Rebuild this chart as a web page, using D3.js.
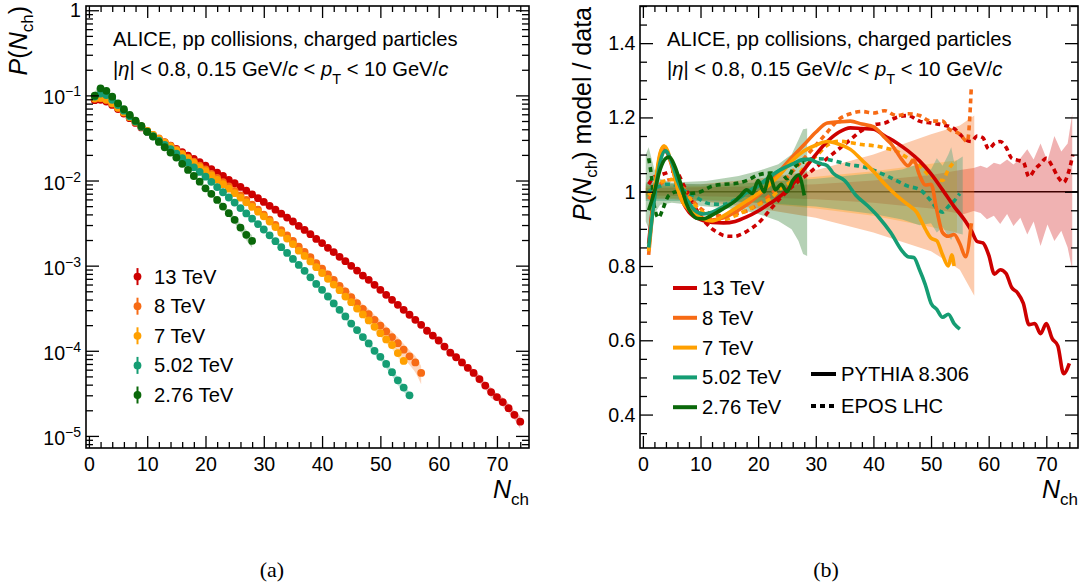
<!DOCTYPE html>
<html><head><meta charset="utf-8">
<script src="https://cdn.jsdelivr.net/npm/d3@7/dist/d3.min.js"></script>
<style>
html,body{margin:0;padding:0;background:#fff;}
svg{display:block;}
text{white-space:pre;}
</style></head><body>
<svg id="chart" width="1086" height="583"></svg>
<script>
// ================= DATA =================
const energies = ["13 TeV", "8 TeV", "7 TeV", "5.02 TeV", "2.76 TeV"];
const modelNames = ["PYTHIA 8.306", "EPOS LHC"];
const xMajorTicks = [0, 10, 20, 30, 40, 50, 60, 70];
const xMinorTicks = [2,4,6,8,12,14,16,18,22,24,26,28,32,34,36,38,42,44,46,48,52,54,56,58,62,64,66,68,72,74];
const yLogMajor = [1e-5, 1e-4, 1e-3, 1e-2, 1e-1, 1];
const yLogLabels = ["\u22125", "\u22124", "\u22123", "\u22122", "\u22121", "0"];
const yRatioMajor = [0.4, 0.6, 0.8, 1.0, 1.2, 1.4];
const yRatioLabels = ["0.4", "0.6", "0.8", "1", "1.2", "1.4"];
const yRatioMinor = [0.35,0.45,0.5,0.55,0.65,0.7,0.75,0.85,0.9,0.95,1.05,1.1,1.15,1.25,1.3,1.35,1.45,1.5];

// P(Nch), first entry is Nch = 1
const p13 = [0.0879,0.0889,0.0847,0.0773,0.0692,0.0611,0.0540,0.0475,0.0420,0.0373,
  0.0337,0.0307,0.0280,0.0256,0.0235,0.0215,0.0196,0.0179,0.0164,0.0150,
  0.0136,0.0124,0.0113,0.0102,0.00929,0.00841,0.00760,0.00687,0.00621,0.00560,
  0.00505,0.00454,0.00408,0.00367,0.00330,0.00293,0.00263,0.00234,0.00206,0.00184,
  0.00162,0.00144,0.00127,0.00113,9.95e-4,8.76e-4,7.65e-4,6.81e-4,5.95e-4,5.20e-4,
  4.54e-4,3.97e-4,3.47e-4,3.03e-4,2.65e-4,2.31e-4,2.02e-4,1.72e-4,1.51e-4,1.32e-4,
  1.12e-4,9.5e-5,8.4e-5,7.3e-5,6.3e-5,5.5e-5,4.65e-5,3.9e-5,3.27e-5,2.86e-5,
  2.5e-5,2.12e-5,1.77e-5,1.47e-5];
const p8 = [0.0910,0.0930,0.0887,0.0804,0.0716,0.0631,0.0555,0.0489,0.0432,0.0382,
  0.0344,0.0312,0.0282,0.0255,0.0230,0.0207,0.0186,0.0167,0.0150,0.0135,
  0.0120,0.0107,0.00957,0.00851,0.00755,0.00670,0.00593,0.00519,0.00455,0.00398,
  0.00347,0.00301,0.00261,0.00226,0.00195,1.67e-3,1.45e-3,1.26e-3,1.07e-3,9.2e-4,
  7.9e-4,6.8e-4,5.8e-4,5.0e-4,4.26e-4,3.63e-4,3.11e-4,2.70e-4,2.31e-4,1.98e-4,
  1.69e-4,1.45e-4,1.23e-4,1.03e-4,8.6e-5,7.3e-5,5.5e-5];
const p7 = [0.0923,0.0933,0.0891,0.0807,0.0718,0.0632,0.0556,0.0490,0.0433,0.0382,
  0.0343,0.0309,0.0279,0.0251,0.0225,0.0202,0.0181,0.0161,0.0144,0.0129,
  0.0115,0.0102,0.00904,0.00802,0.00710,0.00628,0.00555,0.00489,0.00431,0.00380,
  0.00330,0.00284,0.00243,0.00208,0.00179,1.50e-3,1.30e-3,1.12e-3,9.6e-4,8.2e-4,
  7.0e-4,6.0e-4,5.15e-4,4.33e-4,3.72e-4,3.13e-4,2.67e-4,2.27e-4,1.91e-4,1.61e-4,
  1.36e-4,1.17e-4,9.4e-5,7.6e-5];
const p5 = [0.097,0.105,0.101,0.0889,0.0769,0.0661,0.0569,0.0492,0.0428,0.0373,
  0.0331,0.0294,0.0262,0.0233,0.0207,0.0183,0.0162,0.0143,0.0126,0.0111,
  0.00964,0.00838,0.00728,0.00632,0.00550,0.00475,0.00411,0.00356,0.00308,0.00266,
  0.00227,0.00194,0.00165,0.00141,0.00120,0.00102,8.7e-4,7.3e-4,6.1e-4,5.2e-4,
  4.34e-4,3.6e-4,3.03e-4,2.53e-4,2.09e-4,1.75e-4,1.45e-4,1.22e-4,1.0e-4,8.5e-5,
  7.0e-5,5.6e-5,4.5e-5,3.7e-5,3.0e-5];
const p276 = [0.099,0.121,0.113,0.0966,0.0807,0.0687,0.0589,0.0505,0.0437,0.0375,
  0.0328,0.0284,0.0246,0.0213,0.0186,0.0157,0.0133,0.0113,0.0097,0.0081,
  0.00697,0.00592,0.00494,0.00413,0.00345,0.0028,0.0023,0.00195];

// PYTHIA 8.306 / data
const py13N = [1,2,3,3.8,5,6,7,8,10,12,14,16,18,20,22,24,26,28,30,32,34,36,38,40,42,44,46,48,50,52,54,56,57,58,59,60,61,62,63,64,65,66,67,68,69,70,71,72,73,74];
const py13V = [0.86,1.0,1.09,1.11,1.075,1.015,0.97,0.945,0.925,0.917,0.916,0.92,0.932,0.948,0.968,0.99,1.02,1.06,1.1,1.135,1.16,1.172,1.17,1.168,1.15,1.132,1.11,1.083,1.048,1.005,0.96,0.92,0.895,0.866,0.862,0.83,0.778,0.79,0.78,0.742,0.728,0.7,0.642,0.645,0.618,0.645,0.605,0.585,0.51,0.538];
const py8N = [1,2,3,3.6,5,6,7,8,10,12,14,16,18,20,22,24,26,28,30,32,34,36,38,40,41,42,43,44,45,46,47,48,49,50,51,52,53,54,55,56,57];
const py8V = [0.83,0.99,1.1,1.122,1.07,1.01,0.97,0.95,0.93,0.924,0.93,0.945,0.965,0.99,1.02,1.06,1.095,1.127,1.16,1.185,1.188,1.19,1.182,1.175,1.162,1.145,1.13,1.108,1.085,1.07,1.085,1.045,1.018,1.02,0.95,0.89,0.88,0.885,0.86,0.825,0.915];
const py7N = [1,2,3,3.7,5,6,7,8,10,12,14,16,18,20,22,24,26,28,30,32,34,36,38,40,42,44,46,47.5,49,50,51,52,53,53.6,54];
const py7V = [0.84,1.0,1.105,1.123,1.075,1.01,0.97,0.955,0.93,0.921,0.935,0.955,0.975,0.995,1.02,1.05,1.085,1.11,1.125,1.135,1.128,1.114,1.085,1.055,1.02,0.99,0.965,0.945,0.9,0.875,0.868,0.83,0.80,0.83,0.80];
const py5N = [1,2,3,3.9,5,6,7,8,9,10.5,12,14,16,18,20,22,24,26,28,29,30,31,32,33,35,37,39,41,43,45,46,47,48,49,50,51,52,53,54,55];
const py5V = [0.85,0.98,1.08,1.11,1.08,1.03,0.995,0.97,0.95,0.94,0.945,0.96,0.975,0.998,1.017,1.04,1.06,1.075,1.087,1.087,1.08,1.075,1.07,1.05,1.03,0.99,0.962,0.93,0.89,0.84,0.825,0.823,0.79,0.75,0.70,0.683,0.662,0.67,0.645,0.63];
const py276N = [1,2,3,4,4.6,5.5,6.5,7.5,8.5,9.5,10.5,12,14,16,17,18,19,20,21,22,23,24,25,26,27,28];
const py276V = [0.95,1.0,1.06,1.09,1.093,1.07,1.025,0.97,0.94,0.928,0.927,0.937,0.955,0.975,0.99,1.005,0.995,1.03,1.0,1.045,1.005,1.02,1.0,1.03,1.045,0.99];

// EPOS LHC / data
const ep13N = [1,2,3,4,5,6,7,8,9,10,11,12,13,14,15,16,17,18,19,20,22,24,26,28,30,32,34,36,38,40,42,44,46,48,50,52,54,55,56,57,58,59,60,61,62,63,64,65,66,67,68,69,70,71,72,73,74,74.6];
const ep13V = [1.02,1.04,1.045,1.05,1.055,1.05,1.02,0.99,0.96,0.935,0.915,0.9,0.89,0.882,0.88,0.88,0.885,0.893,0.903,0.915,0.95,0.985,1.015,1.04,1.065,1.09,1.115,1.14,1.165,1.18,1.185,1.2,1.205,1.19,1.185,1.18,1.17,1.155,1.14,1.135,1.15,1.145,1.115,1.13,1.135,1.12,1.09,1.085,1.08,1.04,1.06,1.075,1.09,1.07,1.04,1.025,1.06,1.1];
const ep8N = [1,2,3,4,5,6,7,8,9,10,12,14,16,18,20,22,24,26,28,30,32,34,36,38,40,42,44,46,48,50,52,53,55,56.3,57];
const ep8V = [0.98,1.0,1.02,1.03,1.033,1.025,1.01,0.99,0.97,0.955,0.94,0.935,0.94,0.948,0.965,0.99,1.02,1.055,1.09,1.125,1.16,1.195,1.21,1.216,1.212,1.218,1.205,1.21,1.205,1.19,1.19,1.17,1.155,1.135,1.285];
const ep7N = [1,2,3,4,5,6,7,8,9,10,12,14,16,18,20,22,24,26,28,30,32,34,36,38,40,42,44,46,48,50,51,52,53,54];
const ep7V = [0.99,1.01,1.025,1.03,1.033,1.025,1.005,0.985,0.965,0.95,0.93,0.925,0.935,0.95,0.965,0.98,1.01,1.03,1.065,1.095,1.125,1.136,1.132,1.127,1.124,1.118,1.109,1.09,1.07,1.04,1.035,1.03,1.06,1.08];
const ep5N = [1,2,3,4,5,6,7,8,9,10,11,12,14,16,18,20,22,24,26,28,30,32,34,36,38,40,42,44,46,48,50,51,52,53,54,55];
const ep5V = [1.0,1.01,1.015,1.02,1.02,1.015,1.005,0.995,0.988,0.978,0.97,0.967,0.966,0.978,0.995,1.015,1.038,1.06,1.075,1.085,1.089,1.087,1.08,1.072,1.068,1.058,1.045,1.03,1.015,1.006,0.975,0.955,0.945,0.96,0.975,0.995];
const ep276N = [1,1.5,2,2.7,3.5,4.5,6,8,10,12,14,16,18,20,22,24,25,26,27,28];
const ep276V = [1.09,1.04,0.96,0.93,0.955,0.99,1.0,0.995,1.0,1.015,1.02,1.022,1.03,1.045,1.05,1.05,1.035,1.06,1.075,1.08];

// data uncertainty bands (relative), upper and lower edges
const band13N = [0.5,10,20,30,40,50,55.6,57.4,58.6,59.7,60.9,62,63.2,64.3,65.5,66.7,67.8,69,70.2,71.4,72.6,73.7,74.5];
const band13Up = [1.01,1.012,1.015,1.02,1.03,1.045,1.06,1.064,1.07,1.064,1.078,1.073,1.087,1.073,1.09,1.114,1.087,1.13,1.083,1.15,1.108,1.13,1.21];
const band13Lo = [0.99,0.988,0.985,0.98,0.97,0.955,0.939,0.948,0.943,0.926,0.935,0.913,0.94,0.908,0.93,0.885,0.92,0.854,0.912,0.867,0.895,0.85,0.79];
const band8N = [0.5,5,10,20,30,40,50,55,57.5];
const band8Up = [1.02,1.02,1.02,1.035,1.058,1.1,1.155,1.178,1.205];
const band8Lo = [0.98,0.98,0.975,0.955,0.93,0.89,0.84,0.79,0.72];
const band7N = [0.5,10,20,30,40,50,54.5];
const band7Up = [1.015,1.015,1.025,1.04,1.055,1.075,1.085];
const band7Lo = [0.985,0.98,0.97,0.955,0.935,0.905,0.89];
const band5N = [0.5,10,20,30,40,45,48,50,51,52,53,53.5,54,55.5];
const band5Up = [1.025,1.02,1.025,1.035,1.05,1.06,1.075,1.06,1.09,1.07,1.1,1.12,1.08,1.095];
const band5Lo = [0.975,0.975,0.97,0.96,0.94,0.925,0.91,0.915,0.89,0.905,0.88,0.87,0.89,0.885];
const band276N = [0.5,1,2,3,5,11,16.6,20,23.5,25.8,27,27.8,28.5];
const band276Up = [1.1,1.12,1.06,1.035,1.025,1.029,1.042,1.056,1.074,1.1,1.14,1.168,1.17];
const band276Lo = [0.92,0.9,0.94,0.965,0.97,0.96,0.953,0.94,0.921,0.899,0.867,0.832,0.827];

// ================= DRAWING =================
const FONT = "'Liberation Sans', Arial, Helvetica, sans-serif";
const colors = ["#cd0000", "#f76b15", "#ffa000", "#159d73", "#0a680a"];
const pData = [p13, p8, p7, p5, p276];
const pyN = [py13N, py8N, py7N, py5N, py276N], pyV = [py13V, py8V, py7V, py5V, py276V];
const epN = [ep13N, ep8N, ep7N, ep5N, ep276N], epV = [ep13V, ep8V, ep7V, ep5V, ep276V];
const bN = [band13N, band8N, band7N, band5N, band276N];
const bUp = [band13Up, band8Up, band7Up, band5Up, band276Up];
const bLo = [band13Lo, band8Lo, band7Lo, band5Lo, band276Lo];
const TXT = 20.2, TICK = 19.6;

const svg = d3.select("#chart").attr("font-family", FONT);

const FL = {x0: 86, x1: 529, y0: 6, y1: 448};
const FR = {x0: 640, x1: 1078, y0: 6, y1: 448};
const xL = d3.scaleLinear().domain([-0.5, 75.5]).range([FL.x0, FL.x1]);
const yL = d3.scaleLog().domain([Math.pow(10, -5.142), Math.pow(10, 0.05)]).range([FL.y1, FL.y0]);
const xR = d3.scaleLinear().domain([-0.5, 75.5]).range([FR.x0, FR.x1]);
const yR = d3.scaleLinear().domain([0.31, 1.5]).range([FR.y1, FR.y0]);

function rich(g, x, y, parts, size, anchor, transform) {
  const t = g.append("text").attr("x", x).attr("y", y).attr("font-size", size)
    .attr("text-anchor", anchor || "start").attr("fill", "#000");
  if (transform) t.attr("transform", transform);
  let shift = 0;
  parts.forEach(p => {
    const ts = t.append("tspan").text(p.t);
    const target = p.sub ? p.sub : (p.sup ? -p.sup : 0);
    if (target !== shift) { ts.attr("dy", target - shift); shift = target; }
    if (p.i) ts.attr("font-style", "italic");
    if (p.fs) ts.attr("font-size", p.fs);
  });
  return t;
}

function ticks(g, x, y, F, xMaj, xMin, yMaj, yMin) {
  const ax = (axis, vals, size, tx, ty) => g.append("g")
    .attr("transform", `translate(${tx},${ty})`)
    .call(axis.tickValues(vals).tickSize(size).tickFormat(""))
    .call(s => s.select(".domain").remove())
    .call(s => s.selectAll("line").attr("stroke", "#000").attr("stroke-width", 1.3));
  ax(d3.axisBottom(x), xMaj, -12, 0, F.y1);
  ax(d3.axisBottom(x), xMin, -6, 0, F.y1);
  ax(d3.axisTop(x), xMaj, -12, 0, F.y0);
  ax(d3.axisTop(x), xMin, -6, 0, F.y0);
  ax(d3.axisLeft(y), yMaj, -13, F.x0, 0);
  ax(d3.axisLeft(y), yMin, -7, F.x0, 0);
  ax(d3.axisRight(y), yMaj, -13, F.x1, 0);
  ax(d3.axisRight(y), yMin, -7, F.x1, 0);
  g.append("g").attr("transform", `translate(0,${F.y1})`)
    .call(d3.axisBottom(x).tickValues(xMaj).tickSize(0).tickPadding(9).tickFormat(d3.format("d")))
    .call(s => s.select(".domain").remove())
    .attr("font-size", null).attr("font-family", null)
    .call(s => s.selectAll("text").attr("font-size", TICK).attr("fill", "#000"));
  g.append("rect").attr("x", F.x0).attr("y", F.y0).attr("width", F.x1 - F.x0).attr("height", F.y1 - F.y0)
    .attr("fill", "none").attr("stroke", "#000").attr("stroke-width", 1.6);
}

// ---------- Panel (a) ----------
const gA = svg.append("g");
const logMinor = [];
[-6, -5, -4, -3, -2, -1, 0].forEach(d => { for (let k = 2; k <= 9; k++) { const v = k * Math.pow(10, d); if (v > yL.domain()[0] && v < yL.domain()[1]) logMinor.push(v); } });

pData.forEach((P, s) => {
  const up = d3.scaleLinear().domain(bN[s]).range(bUp[s]).clamp(true);
  const lo = d3.scaleLinear().domain(bN[s]).range(bLo[s]).clamp(true);
  const pts = P.map((v, i) => [i + 1, v * up(i + 1), v * lo(i + 1)]);
  gA.append("path").datum(pts)
    .attr("d", d3.area().x(d => xL(d[0])).y0(d => yL(d[2])).y1(d => yL(d[1])).curve(d3.curveMonotoneX))
    .attr("fill", colors[s]).attr("opacity", 0.28);
});
pData.forEach((P, s) => {
  gA.append("g").selectAll("circle").data(P).join("circle")
    .attr("cx", (d, i) => xL(i + 1)).attr("cy", d => yL(d)).attr("r", 3.9)
    .attr("fill", colors[s]);
});
ticks(gA, xL, yL, FL, xMajorTicks, xMinorTicks, yLogMajor, logMinor);
yLogMajor.forEach((v, i) => {
  if (v === 1) {
    gA.append("text").attr("x", 81).attr("y", yL(v) + 7).attr("text-anchor", "end").attr("font-size", TICK).text("1");
  } else {
    rich(gA, 81, yL(v) + 9, [{t: "10"}, {t: yLogLabels[i], sup: 8, fs: 14}], TICK, "end");
  }
});
rich(gA, 0, 0, [{t: "P", i: 1}, {t: "("}, {t: "N", i: 1}, {t: "ch", sub: 6, fs: 17}, {t: ")"}], 25, "end", "translate(27,6) rotate(-90)");
rich(gA, FL.x1, 498, [{t: "N", i: 1}, {t: "ch", sub: 7, fs: 17}], 25, "end");
const line2 = [{t: "|"}, {t: "\u03B7", i: 1}, {t: "| < 0.8, 0.15 GeV/"}, {t: "c", i: 1}, {t: " < "}, {t: "p", i: 1},
  {t: "T", sub: 8, fs: 14.5}, {t: " < 10 GeV/"}, {t: "c", i: 1}];
gA.append("text").attr("x", 113).attr("y", 46).attr("font-size", TXT).text("ALICE, pp collisions, charged particles");
rich(gA, 113, 75.5, line2, TXT, "start");
energies.forEach((e, i) => {
  const cy = 276.6 + i * 29.6;
  gA.append("line").attr("x1", 137.5).attr("x2", 137.5).attr("y1", cy - 8.5).attr("y2", cy + 8.5)
    .attr("stroke", colors[i]).attr("stroke-width", 2);
  gA.append("circle").attr("cx", 137.5).attr("cy", cy).attr("r", 3.9).attr("fill", colors[i]);
  gA.append("text").attr("x", 154).attr("y", cy + 7).attr("font-size", TXT).text(e);
});
svg.append("text").attr("x", 272).attr("y", 577).attr("text-anchor", "middle")
  .attr("font-family", "'Liberation Serif', 'Times New Roman', serif").attr("font-size", 22).text("(a)");

// ---------- Panel (b) ----------
const gB = svg.append("g");
gB.append("line").attr("x1", FR.x0).attr("x2", FR.x1).attr("y1", yR(1)).attr("y2", yR(1))
  .attr("stroke", "#000").attr("stroke-width", 1.5);
[0, 1, 2, 3, 4].forEach(s => {
  const pts = d3.zip(bN[s], bUp[s], bLo[s]);
  gB.append("path").datum(pts)
    .attr("d", d3.area().x(d => xR(d[0])).y0(d => yR(d[2])).y1(d => yR(d[1])))
    .attr("fill", colors[s]).attr("opacity", s === 1 ? 0.35 : 0.3);
});
const lineR = d3.line().x(d => xR(d[0])).y(d => yR(d[1])).curve(d3.curveMonotoneX);
[0, 1, 2, 3, 4].forEach(s => {
  gB.append("path").datum(d3.zip(epN[s], epV[s])).attr("d", lineR)
    .attr("fill", "none").attr("stroke", colors[s]).attr("stroke-width", 3.6).attr("stroke-dasharray", "5,4");
});
[0, 1, 2, 3, 4].forEach(s => {
  gB.append("path").datum(d3.zip(pyN[s], pyV[s])).attr("d", lineR)
    .attr("fill", "none").attr("stroke", colors[s]).attr("stroke-width", 3.6).attr("stroke-linejoin", "round");
});
ticks(gB, xR, yR, FR, xMajorTicks, xMinorTicks, yRatioMajor, yRatioMinor);
yRatioMajor.forEach((v, i) => {
  gB.append("text").attr("x", 635.5).attr("y", yR(v) + 7).attr("text-anchor", "end").attr("font-size", TICK).text(yRatioLabels[i]);
});
rich(gB, 0, 0, [{t: "P", i: 1}, {t: "("}, {t: "N", i: 1}, {t: "ch", sub: 6, fs: 17}, {t: ") model / data"}], 25, "end", "translate(591,7) rotate(-90)");
rich(gB, FR.x1, 498, [{t: "N", i: 1}, {t: "ch", sub: 7, fs: 17}], 25, "end");
gB.append("text").attr("x", 667).attr("y", 46).attr("font-size", TXT).text("ALICE, pp collisions, charged particles");
rich(gB, 667, 75.5, line2, TXT, "start");
energies.forEach((e, i) => {
  const cy = 288 + i * 29.8;
  gB.append("line").attr("x1", 673).attr("x2", 697).attr("y1", cy).attr("y2", cy)
    .attr("stroke", colors[i]).attr("stroke-width", 4);
  gB.append("text").attr("x", 702).attr("y", cy + 7).attr("font-size", TXT).text(e);
});
modelNames.forEach((m, i) => {
  const cy = 374 + i * 32;
  gB.append("line").attr("x1", 811).attr("x2", 836).attr("y1", cy).attr("y2", cy)
    .attr("stroke", "#000").attr("stroke-width", 4).attr("stroke-dasharray", i ? "5,4" : null);
  gB.append("text").attr("x", 841).attr("y", cy + 7).attr("font-size", TXT).text(m);
});
svg.append("text").attr("x", 826).attr("y", 577).attr("text-anchor", "middle")
  .attr("font-family", "'Liberation Serif', 'Times New Roman', serif").attr("font-size", 22).text("(b)");
</script>
</body></html>
